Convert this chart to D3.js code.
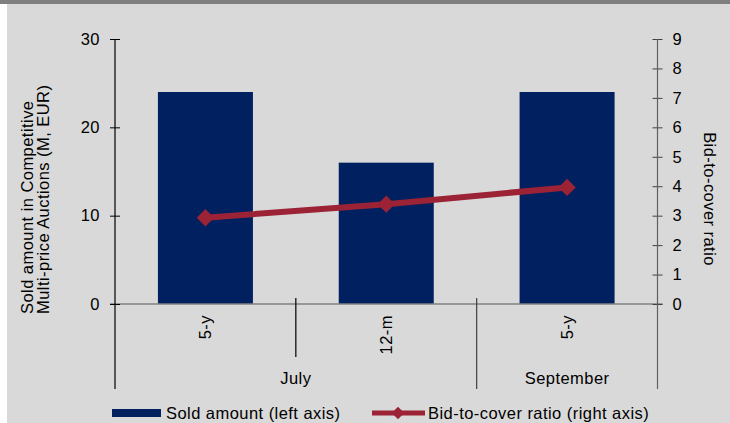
<!DOCTYPE html>
<html><head><meta charset="utf-8">
<script src="https://cdn.jsdelivr.net/npm/d3@7"></script>
<style>
html,body{margin:0;padding:0;background:#fff;}
svg{display:block;font-family:"Liberation Sans",Arial,sans-serif;}
svg text{letter-spacing:0.45px;}
</style></head>
<body>
<svg id="c" width="730" height="423"></svg>
<script>
const categories = ["5-y", "12-m", "5-y"];
const groups = [{name: "July", span: 2}, {name: "September", span: 1}];
const soldAmount = [24, 16, 24];
const bidToCover = [2.93, 3.39, 3.96];
const leftTicks = [0, 10, 20, 30];
const rightTicks = [0, 1, 2, 3, 4, 5, 6, 7, 8, 9];
const seriesNames = ["Sold amount (left axis)", "Bid-to-cover ratio (right axis)"];
const leftTitle = ["Sold amount in Competitive", "Multi-price Auctions (M, EUR)"];
const rightTitle = "Bid-to-cover ratio";

const FS = 16.5;
const barColor = "#002060";
const lineColor = "#9b2335";
const bg = "#d9d9d9";

const svg = d3.select("#c");
svg.append("rect").attr("x",0).attr("y",0).attr("width",730).attr("height",423).attr("fill",bg);
svg.append("rect").attr("x",0).attr("y",4).attr("width",7).attr("height",419).attr("fill","#fff");
svg.append("rect").attr("x",0).attr("y",0).attr("width",730).attr("height",4).attr("fill","#7f7f7f");

const L = 115, R = 657.5, T = 39, B = 304;
const x = d3.scaleBand().domain(d3.range(categories.length)).range([L, R]).paddingInner(0.4746).paddingOuter(0.2373);
const yL = d3.scaleLinear().domain([0, 30]).range([B, T]);
const yR = d3.scaleLinear().domain([0, 9]).range([B, T]);
const step = x.step();
const edge = i => x(i) - step * x.paddingInner() / 2;

// bars
svg.append("g").selectAll("rect").data(soldAmount).join("rect")
  .attr("x", (d,i) => x(i)).attr("width", x.bandwidth())
  .attr("y", d => yL(d)).attr("height", d => yL(0) - yL(d))
  .attr("fill", barColor);

// baseline
svg.append("line").attr("x1", L-5).attr("x2", R+5).attr("y1", yL(0)).attr("y2", yL(0))
  .attr("stroke", "#808080").attr("stroke-width", 1.5);

// left axis
const gl = svg.append("g").attr("transform", `translate(${L},0)`)
  .call(d3.axisLeft(yL).tickValues(leftTicks).tickSize(5).tickPadding(10).tickSizeOuter(0));
gl.select(".domain").remove();
gl.selectAll(".tick line").attr("x1", 5).attr("stroke", "#000");
gl.selectAll("text").attr("font-size", FS).attr("font-family", "Liberation Sans, Arial, sans-serif").attr("fill", "#000");
svg.append("line").attr("x1", L).attr("x2", L).attr("y1", T).attr("y2", 389).attr("stroke", "#000").attr("stroke-width", 1.2);

// right axis
const gr = svg.append("g").attr("transform", `translate(${R},0)`)
  .call(d3.axisRight(yR).tickValues(rightTicks).tickSize(5).tickPadding(10).tickSizeOuter(0));
gr.select(".domain").remove();
gr.selectAll(".tick line").attr("x1", -5).attr("stroke", "#404040");
gr.selectAll("text").attr("font-size", FS).attr("font-family", "Liberation Sans, Arial, sans-serif").attr("fill", "#000");
svg.append("line").attr("x1", R).attr("x2", R).attr("y1", T).attr("y2", 389).attr("stroke", "#606060").attr("stroke-width", 1.2);

// category labels
svg.append("g").selectAll("text").data(categories).join("text")
  .attr("transform", (d,i) => `translate(${x(i) + x.bandwidth()/2 + 6},315) rotate(-90)`)
  .attr("text-anchor", "end").attr("font-size", FS).text(d => d);

// inner separators and group labels
let start = 0;
groups.forEach((g, gi) => {
  const x0 = edge(start), x1 = edge(start + g.span - 1) + step;
  for (let k = start + 1; k < start + g.span; k++) {
    svg.append("line").attr("x1", edge(k)).attr("x2", edge(k)).attr("y1", 298).attr("y2", 357)
      .attr("stroke", "#000").attr("stroke-width", 1.2);
  }
  if (gi > 0) {
    svg.append("line").attr("x1", x0).attr("x2", x0).attr("y1", 298).attr("y2", 389)
      .attr("stroke", "#404040").attr("stroke-width", 1.2);
  }
  svg.append("text").attr("x", (x0 + x1) / 2).attr("y", 384).attr("text-anchor", "middle")
    .attr("font-size", FS).text(g.name);
  start += g.span;
});

// line series
const line = d3.line().x((d,i) => x(i) + x.bandwidth()/2).y(d => yR(d));
svg.append("path").datum(bidToCover).attr("d", line).attr("fill", "none")
  .attr("stroke", lineColor).attr("stroke-width", 6);
svg.append("g").selectAll("path").data(bidToCover).join("path")
  .attr("transform", (d,i) => `translate(${x(i) + x.bandwidth()/2},${yR(d)}) rotate(45)`)
  .attr("d", d3.symbol().type(d3.symbolSquare).size(150)).attr("fill", lineColor);

// axis titles
leftTitle.forEach((t, i) => {
  svg.append("text").attr("transform", `translate(${33 + i*15.5},314) rotate(-90)`)
    .attr("text-anchor", "start").attr("font-size", FS).text(t);
});
svg.append("text").attr("transform", `translate(704,199) rotate(90)`)
  .attr("text-anchor", "middle").attr("font-size", FS).text(rightTitle);

// legend
const lg = svg.append("g");
lg.append("rect").attr("x", 112).attr("y", 409).attr("width", 49).attr("height", 8).attr("fill", barColor);
lg.append("text").attr("x", 166).attr("y", 419).attr("font-size", FS).text(seriesNames[0]);
lg.append("line").attr("x1", 372).attr("x2", 425).attr("y1", 413).attr("y2", 413).attr("stroke", lineColor).attr("stroke-width", 5);
lg.append("path").attr("transform", "translate(398,413) rotate(45)").attr("d", d3.symbol().type(d3.symbolSquare).size(80)).attr("fill", lineColor);
lg.append("text").attr("x", 428).attr("y", 419).attr("font-size", FS).text(seriesNames[1]);
</script>
</body></html>
